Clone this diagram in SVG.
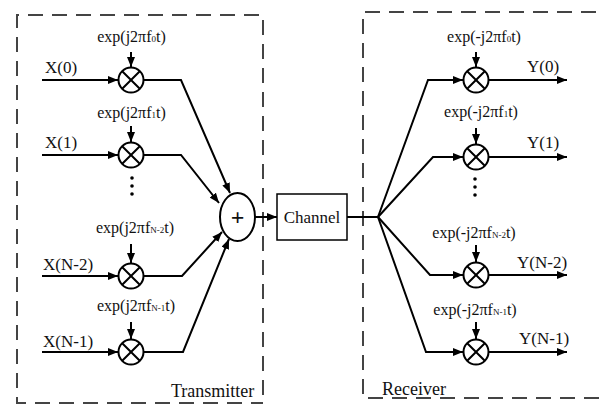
<svg xmlns="http://www.w3.org/2000/svg" width="605" height="405" viewBox="0 0 605 405">
<defs>
<marker id="ah" markerUnits="userSpaceOnUse" markerWidth="10" markerHeight="8" refX="10" refY="4" orient="auto"><path d="M0,0 L10,4 L0,8 z" fill="#000"/></marker>
<style>
.t{font-family:"Liberation Serif","Times New Roman",serif;fill:#111;}
.lbl{font-size:17px;}
.exp{font-size:16px;}
.sub{font-size:9px;}
.ln{fill:none;stroke:#000;stroke-width:2;}
.ar{marker-end:url(#ah);}
.dash{fill:none;stroke:#444;stroke-width:2;stroke-dasharray:15 9;}
.mul{fill:#fff;stroke:#000;stroke-width:2;}
</style>
</defs>
<rect width="605" height="405" fill="#fff"/>
<g id="transmitter-box">
<path class="dash" d="M263,395 V15 H17 V403 H263"/>
<text class="t" x="171" y="397" font-size="18">Transmitter</text>
</g>
<g id="receiver-box">
<path class="dash" d="M620,12 H363 V398 H620"/>
<text class="t" x="382" y="395" font-size="18">Receiver</text>
</g>
<g id="connectors">
<path class="ln ar" d="M42,80 H118"/>
<path class="ln ar" d="M42,155 H118"/>
<path class="ln ar" d="M42,276 H118"/>
<path class="ln ar" d="M42,352 H118"/>
<path class="ln ar" d="M131,52 V67"/>
<path class="ln ar" d="M131,126 V142"/>
<path class="ln ar" d="M131,244 V263"/>
<path class="ln ar" d="M131,322 V339"/>
<path class="ln ar" d="M144,80 H181 L230,193"/>
<path class="ln ar" d="M144,155 H181 L219,203"/>
<path class="ln ar" d="M144,276 H182 L222,232"/>
<path class="ln ar" d="M144,352 H183 L229,239"/>
<path class="ln ar" d="M255,217 H277"/>
<path class="ln" d="M347,217 H378"/>
<path class="ln ar" d="M378,217 L428,80 H463"/>
<path class="ln ar" d="M378,217 L433,157 H463"/>
<path class="ln ar" d="M378,217 L430,275 H463"/>
<path class="ln ar" d="M378,217 L426,352 H463"/>
<path class="ln ar" d="M476,52 V67"/>
<path class="ln ar" d="M476,128 V144"/>
<path class="ln ar" d="M476,245 V262"/>
<path class="ln ar" d="M476,322 V339"/>
<path class="ln ar" d="M489,80 H567"/>
<path class="ln ar" d="M489,157 H567"/>
<path class="ln ar" d="M489,275 H567"/>
<path class="ln ar" d="M489,352 H567"/>
</g>
<g id="tx-mult-0">
<circle class="mul" cx="131" cy="80" r="12.5"/><path class="ln" d="M122.2,71.2 L139.8,88.8 M139.8,71.2 L122.2,88.8"/>
<text class="t lbl" x="45" y="73">X(0)</text>
<text class="t exp" x="131.5" y="42" text-anchor="middle">exp(j2πf<tspan class="sub">0</tspan>t)</text>
</g>
<g id="tx-mult-1">
<circle class="mul" cx="131" cy="155" r="12.5"/><path class="ln" d="M122.2,146.2 L139.8,163.8 M139.8,146.2 L122.2,163.8"/>
<text class="t lbl" x="45" y="148">X(1)</text>
<text class="t exp" x="131.5" y="118" text-anchor="middle">exp(j2πf<tspan class="sub">1</tspan>t)</text>
</g>
<g id="tx-dots">
<circle cx="132" cy="178" r="1.8" fill="#000"/><circle cx="132" cy="186" r="1.8" fill="#000"/><circle cx="132" cy="194" r="1.8" fill="#000"/>
</g>
<g id="tx-mult-n2">
<circle class="mul" cx="131" cy="276" r="12.5"/><path class="ln" d="M122.2,267.2 L139.8,284.8 M139.8,267.2 L122.2,284.8"/>
<text class="t lbl" x="43" y="270">X(N-2)</text>
<text class="t exp" x="135" y="233" text-anchor="middle">exp(j2πf<tspan class="sub">N-2</tspan>t)</text>
</g>
<g id="tx-mult-n1">
<circle class="mul" cx="131" cy="352" r="12.5"/><path class="ln" d="M122.2,343.2 L139.8,360.8 M139.8,343.2 L122.2,360.8"/>
<text class="t lbl" x="43" y="347">X(N-1)</text>
<text class="t exp" x="136" y="311" text-anchor="middle">exp(j2πf<tspan class="sub">N-1</tspan>t)</text>
</g>
<g id="sum">
<ellipse cx="237.5" cy="217" rx="17.5" ry="24" fill="#fff" stroke="#000" stroke-width="2"/>
<text class="t" x="237.5" y="225" font-size="24" font-weight="bold" text-anchor="middle">+</text>
</g>
<g id="channel">
<rect x="277" y="194" width="70" height="46" fill="#fff" stroke="#000" stroke-width="1.5"/>
<text class="t lbl" x="312" y="223" text-anchor="middle">Channel</text>
</g>
<g id="rx-mult-0">
<circle class="mul" cx="476" cy="80" r="12.5"/><path class="ln" d="M467.2,71.2 L484.8,88.8 M484.8,71.2 L467.2,88.8"/>
<text class="t lbl" x="527" y="72">Y(0)</text>
<text class="t exp" x="484" y="42" text-anchor="middle">exp(-j2πf<tspan class="sub">0</tspan>t)</text>
</g>
<g id="rx-mult-1">
<circle class="mul" cx="476" cy="157" r="12.5"/><path class="ln" d="M467.2,148.2 L484.8,165.8 M484.8,148.2 L467.2,165.8"/>
<text class="t lbl" x="527" y="148">Y(1)</text>
<text class="t exp" x="481" y="117" text-anchor="middle">exp(-j2πf<tspan class="sub">1</tspan>t)</text>
</g>
<g id="rx-dots">
<circle cx="475" cy="179" r="1.8" fill="#000"/><circle cx="475" cy="187" r="1.8" fill="#000"/><circle cx="475" cy="195" r="1.8" fill="#000"/>
</g>
<g id="rx-mult-n2">
<circle class="mul" cx="476" cy="275" r="12.5"/><path class="ln" d="M467.2,266.2 L484.8,283.8 M484.8,266.2 L467.2,283.8"/>
<text class="t lbl" x="517" y="268">Y(N-2)</text>
<text class="t exp" x="474" y="238" text-anchor="middle">exp(-j2πf<tspan class="sub">N-2</tspan>t)</text>
</g>
<g id="rx-mult-n1">
<circle class="mul" cx="476" cy="352" r="12.5"/><path class="ln" d="M467.2,343.2 L484.8,360.8 M484.8,343.2 L467.2,360.8"/>
<text class="t lbl" x="519" y="344">Y(N-1)</text>
<text class="t exp" x="475" y="315" text-anchor="middle">exp(-j2πf<tspan class="sub">N-1</tspan>t)</text>
</g>
</svg>
